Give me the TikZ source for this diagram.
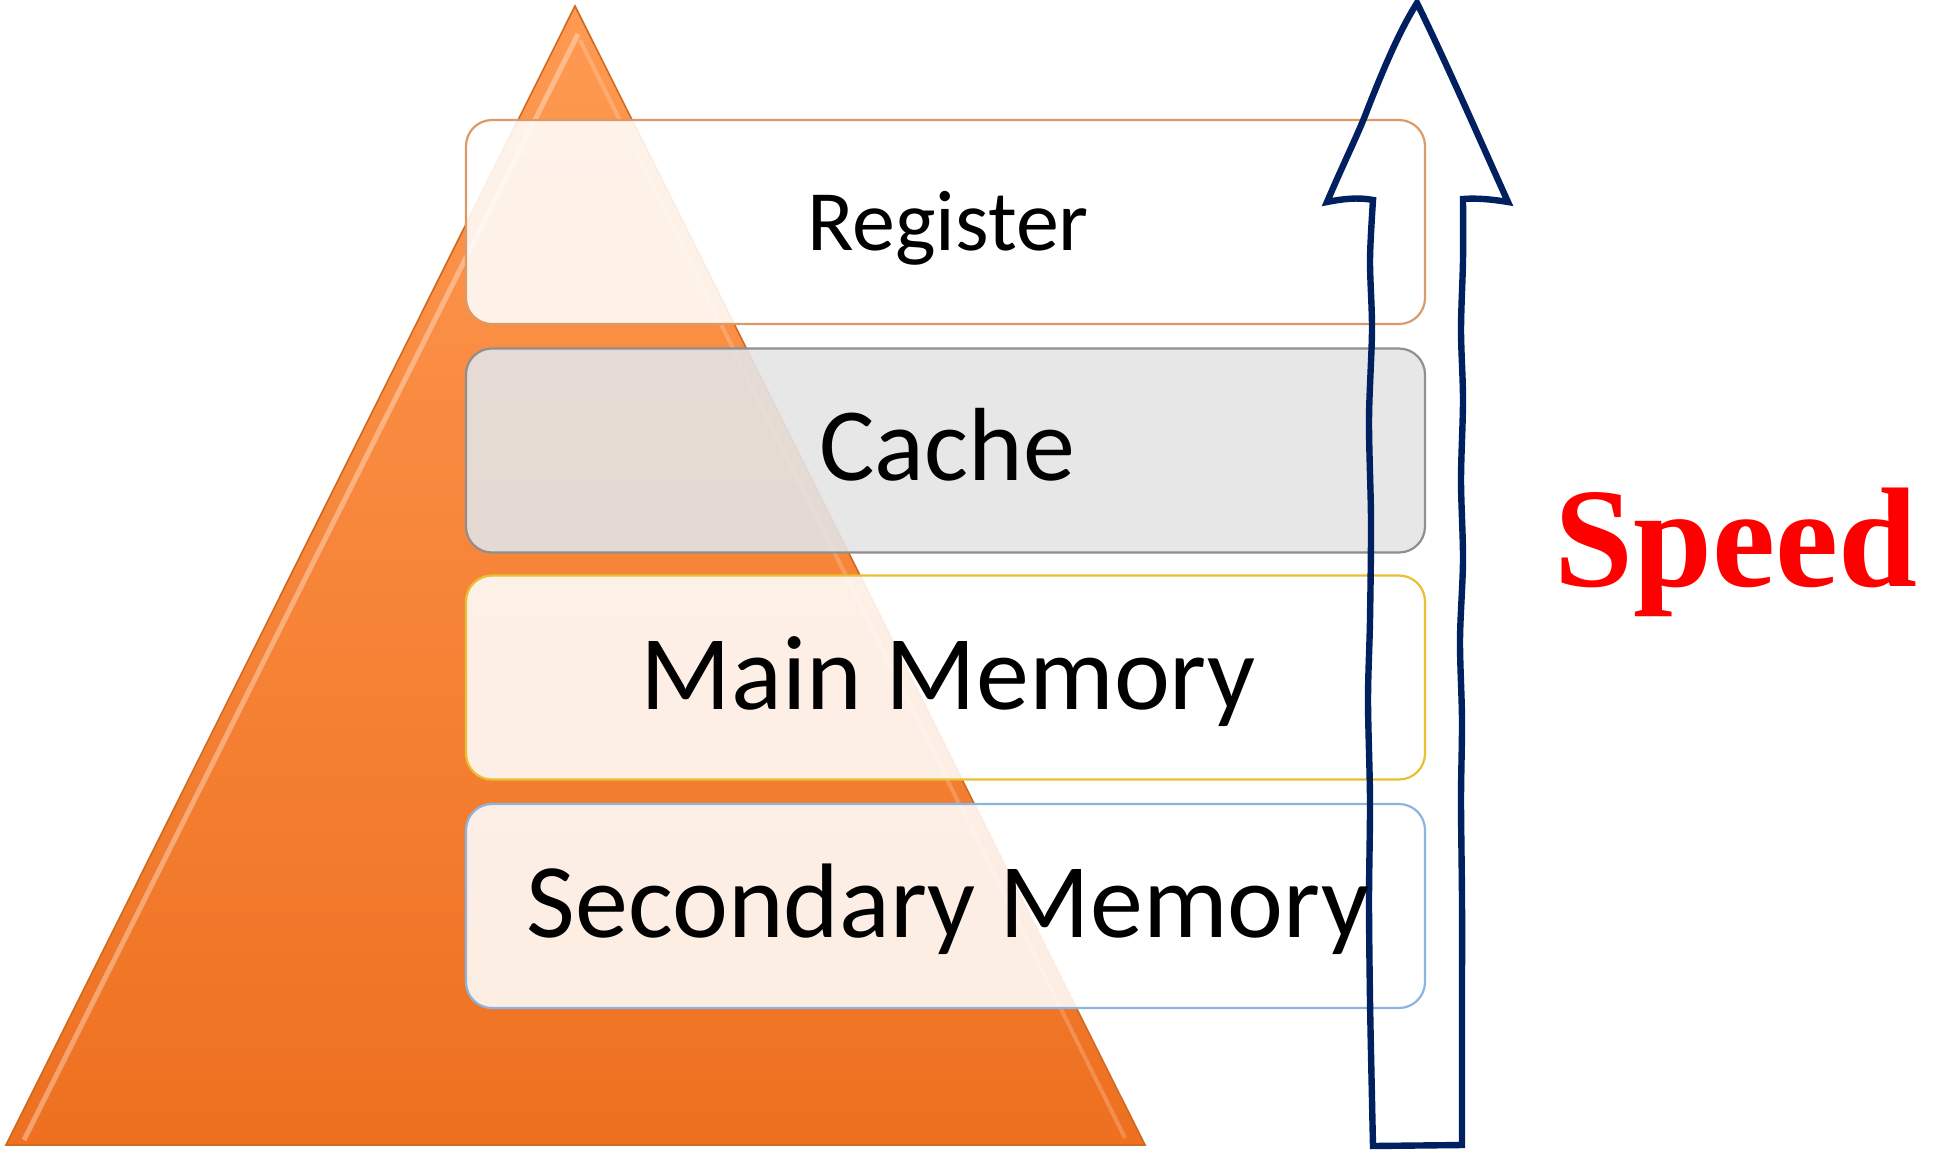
\documentclass[tikz,border=0pt]{standalone}
\usepackage{fontspec}
\setmainfont{Carlito}
\newfontfamily\speedfont{Liberation Serif}
\definecolor{navy}{HTML}{002060}
\definecolor{regborder}{HTML}{DC9A68}
\definecolor{cacheborder}{HTML}{8F8F8F}
\definecolor{mainborder}{HTML}{E8C030}
\definecolor{secborder}{HTML}{8CB4E0}
\definecolor{cachefill}{HTML}{E4E4E4}
\definecolor{pyrtop}{HTML}{FF9A52}
\definecolor{pyrbot}{HTML}{EE7020}
\definecolor{pyredge}{HTML}{D06A20}
\begin{document}
\begin{tikzpicture}[x=0.5pt,y=-0.5pt]
\tikzset{
  membox/.style={rounded corners=13pt, line width=1.1pt, minimum width=479.5pt, minimum height=102pt, inner sep=0pt},
  memtext/.style={anchor=base, text=black, font=\fontsize{53}{60}\selectfont},
  arrowline/.style={draw=navy, line width=3.2pt, line join=miter},
}
\useasboundingbox (0,0) rectangle (1934,1153);
% pyramid
\shade[top color=pyrtop, bottom color=pyrbot] (575,6) -- (1145,1145) -- (6,1145) -- cycle;
\draw[pyredge, line width=0.8pt] (575,6) -- (1145,1145) -- (6,1145) -- cycle;
\draw[white, opacity=0.35, line width=2.5pt] (578,34) -- (24,1140);
\draw[white, opacity=0.2, line width=2pt] (580,40) -- (1125,1138);
% boxes
\node[membox, draw=regborder, fill=white, fill opacity=0.88] (reg) at (945.5,222) {};
\node[membox, draw=cacheborder, fill=cachefill, fill opacity=0.9] (cache) at (945.5,450.5) {};
\node[membox, draw=mainborder, fill=white, fill opacity=0.88] (main) at (945.5,677.5) {};
\node[membox, draw=secborder, fill=white, fill opacity=0.88] (sec) at (945.5,906) {};
% arrow
\draw[arrowline] (1327,202) .. controls (1345,160) and (1360,130) .. (1368,108)
  .. controls (1385,65) and (1400,30) .. (1417,3)
  .. controls (1445,60) and (1480,140) .. (1508,202)
  .. controls (1490,199) and (1475,198) .. (1463,199)
  -- plot[smooth] coordinates {(1463,199) (1463,260) (1461,330) (1463,400) (1461,480) (1463,560) (1460,640) (1462,720) (1461,800) (1462,900) (1462,1000) (1462,1100) (1462,1145)}
  -- (1373,1146)
  -- plot[smooth] coordinates {(1373,1146) (1372,1100) (1370,1000) (1369,900) (1370,800) (1368,700) (1370,620) (1371,520) (1369,420) (1372,330) (1370,260) (1373,200)}
  .. controls (1358,197) and (1342,199) .. (1327,202) -- cycle;
% texts
\node[memtext, font=\fontsize{43}{50}\selectfont] (regt) at (948,250) {Register};
\node[memtext, font=\fontsize{52}{60}\selectfont] (cachet) at (947,480) {Cache};
\node[memtext] (maint) at (948,709) {Main Memory};
\node[memtext] (sect) at (948,937) {Secondary Memory};
\node[anchor=base, text=red, font=\speedfont\bfseries\fontsize{71}{80}\selectfont] (speed) at (1736,586) {Speed};
\end{tikzpicture}
\end{document}
